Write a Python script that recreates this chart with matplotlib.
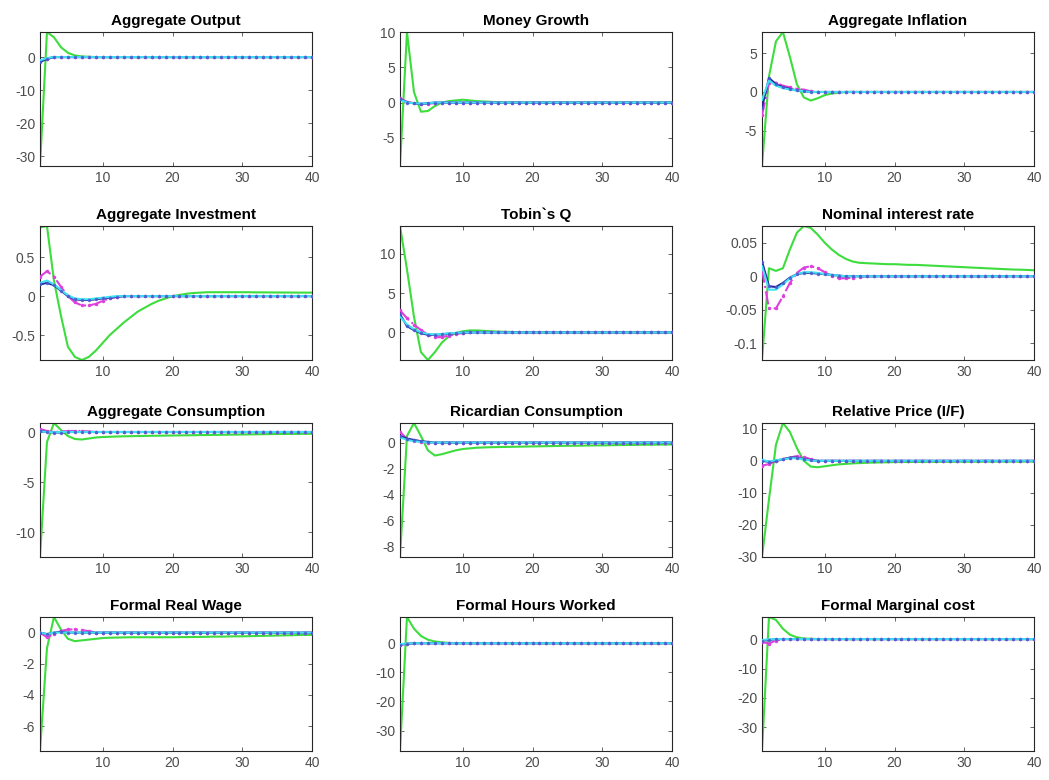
#!/usr/bin/env python3

import numpy as np
import matplotlib
matplotlib.use("Agg")
import matplotlib.pyplot as plt

periods = list(range(1, 41))

titles = ['Aggregate Output', 'Money Growth', 'Aggregate Inflation',
          'Aggregate Investment', 'Tobin`s Q', 'Nominal interest rate',
          'Aggregate Consumption', 'Ricardian Consumption', 'Relative Price (I/F)',
          'Formal Real Wage', 'Formal Hours Worked', 'Formal Marginal cost']

yticks = [[-30, -20, -10, 0], [-5, 0, 5, 10], [-5, 0, 5],
          [-0.5, 0, 0.5], [0, 5, 10], [-0.1, -0.05, 0, 0.05],
          [-10, -5, 0], [-8, -6, -4, -2, 0], [-30, -20, -10, 0, 10],
          [-6, -4, -2, 0], [-30, -20, -10, 0], [-30, -20, -10, 0]]

# green (solid) series
green = [
    [-33, 7.6, 6.0, 3.0, 1.3, 0.5, 0.2, 0.1] + [0.0] * 32,
    [-9, 10, 1.5, -1.3, -1.2, -0.5, 0.0, 0.2, 0.3, 0.4, 0.3, 0.2, 0.15, 0.1, 0.05] + [0.0] * 25,
    [-9.5, 2.0, 6.5, 7.7, 4.5, 1.0, -0.7, -1.1, -0.8, -0.4, -0.2, -0.1] + [0.0] * 28,
    [0.88, 0.9, 0.2, -0.25, -0.65, -0.78, -0.82, -0.78, -0.7, -0.6, -0.5, -0.42, -0.34, -0.27,
     -0.2, -0.15, -0.1, -0.06, -0.03, 0.0, 0.015, 0.03, 0.04, 0.045, 0.05, 0.05, 0.05, 0.05,
     0.05, 0.05, 0.05, 0.048, 0.048, 0.047, 0.047, 0.046, 0.046, 0.045, 0.045, 0.045],
    [13.5, 8.0, 2.0, -2.5, -3.5, -2.5, -1.3, -0.5, -0.1, 0.15, 0.25, 0.25, 0.2, 0.15, 0.1,
     0.08, 0.05, 0.03, 0.02, 0.01] + [0.0] * 20,
    [-0.125, 0.012, 0.008, 0.012, 0.04, 0.065, 0.075, 0.072, 0.062, 0.05, 0.04, 0.032, 0.026,
     0.022, 0.02, 0.0195, 0.019, 0.0185, 0.018, 0.018, 0.0175, 0.017, 0.017, 0.0165, 0.016,
     0.0155, 0.015, 0.0145, 0.014, 0.0135, 0.013, 0.0125, 0.012, 0.0115, 0.011, 0.0105, 0.01,
     0.0098, 0.0094, 0.009],
    [-12.5, -1.0, 0.9, 0.2, -0.4, -0.7, -0.75, -0.65, -0.55, -0.5, -0.48, -0.45, -0.43, -0.42,
     -0.4, -0.39, -0.38, -0.37, -0.36, -0.35, -0.34, -0.33, -0.32, -0.31, -0.3, -0.29, -0.28,
     -0.27, -0.26, -0.25, -0.24, -0.23, -0.22, -0.21, -0.2, -0.2, -0.19, -0.19, -0.18, -0.18],
    [-8.8, 0.5, 1.5, 0.5, -0.6, -1.0, -0.9, -0.75, -0.6, -0.5, -0.45, -0.4, -0.38, -0.36,
     -0.35, -0.34, -0.33, -0.32, -0.31, -0.3, -0.29, -0.28, -0.27, -0.26, -0.25, -0.25, -0.24,
     -0.23, -0.22, -0.22, -0.21, -0.2, -0.19, -0.19, -0.18, -0.17, -0.17, -0.16, -0.16, -0.15],
    [-30, -12, 5, 11.8, 9, 4, 0, -1.8, -2.0, -1.7, -1.4, -1.1, -0.95, -0.8, -0.7, -0.6, -0.55,
     -0.5, -0.45, -0.4, -0.38, -0.36, -0.35, -0.34, -0.33, -0.32, -0.31, -0.3, -0.3, -0.3,
     -0.29, -0.28, -0.28, -0.27, -0.27, -0.26, -0.26, -0.25, -0.25, -0.25],
    [-7.6, -1.0, 1.0, 0.2, -0.4, -0.55, -0.5, -0.45, -0.4, -0.35, -0.33, -0.32, -0.31, -0.3,
     -0.3, -0.3, -0.3, -0.3, -0.3, -0.3, -0.29, -0.29, -0.28, -0.28, -0.27, -0.26, -0.26,
     -0.25, -0.24, -0.24, -0.23, -0.22, -0.21, -0.2, -0.19, -0.18, -0.17, -0.16, -0.15, -0.15],
    [-37, 9, 5, 2.5, 1.2, 0.6, 0.3, 0.1] + [0.0] * 32,
    [-38, 7.5, 6.5, 3.5, 1.5, 0.6, 0.2, 0.1] + [0.0] * 32,
]

# magenta (dash-dot) series
magenta = [
    [-1.2, -0.6, 0.0] + [0.0] * 37,
    [0.6, 0.1, -0.1, -0.2, -0.15, -0.1] + [0.0] * 34,
    [-3.0, 1.2, 1.2, 0.8, 0.6, 0.4, 0.3, 0.1] + [0.0] * 32,
    [0.25, 0.32, 0.25, 0.12, 0.0, -0.08, -0.12, -0.12, -0.1, -0.06, -0.03, -0.01] + [0.0] * 28,
    [2.8, 1.8, 1.0, 0.3, -0.3, -0.6, -0.6, -0.4, -0.2, -0.1] + [0.0] * 30,
    [0.01, -0.048, -0.048, -0.03, -0.01, 0.005, 0.013, 0.015, 0.012, 0.006, 0.0, -0.003,
     -0.003, -0.002, -0.001] + [0.0] * 25,
    [0.3, 0.1, 0.0, 0.05, 0.1, 0.1, 0.1, 0.05] + [0.0] * 32,
    [0.8, 0.3, 0.1, 0.05, 0.0] + [0.0] * 35,
    [-1.5, -1.0, 0.0, 0.5, 1.0, 1.5, 1.2, 0.5, 0.0] + [0.0] * 31,
    [0.0, -0.3, -0.1, 0.1, 0.2, 0.2, 0.15, 0.1] + [0.0] * 32,
    [-0.5, -0.2, 0.0] + [0.0] * 37,
    [-1.0, -1.5, -0.5, 0.0] + [0.0] * 36,
]

# navy (dotted, dot markers) series
navy = [
    [-1.5, -0.5, 0.0] + [0.0] * 37,
    [0.5, 0.0, -0.1, -0.2, -0.1] + [0.0] * 35,
    [-2.0, 1.8, 1.0, 0.6, 0.4, 0.2, 0.1] + [0.0] * 33,
    [0.15, 0.17, 0.14, 0.07, 0.0, -0.04, -0.05, -0.05, -0.04, -0.03, -0.02, -0.01] + [0.0] * 28,
    [2.3, 0.8, 0.3, -0.1, -0.3, -0.3, -0.25, -0.15, -0.08, -0.03] + [0.0] * 30,
    [0.022, -0.015, -0.016, -0.01, -0.002, 0.003, 0.005, 0.005, 0.004, 0.003, 0.002, 0.001] + [0.0] * 28,
    [0.1, 0.0, -0.05, -0.05, 0.0] + [0.0] * 35,
    [0.5, 0.3, 0.2, 0.1, 0.05] + [0.0] * 35,
    [0.0, -0.3, 0.0, 0.5, 1.0, 1.0, 0.5, 0.2] + [0.0] * 32,
    [0.0, -0.1, 0.0, 0.05] + [0.0] * 36,
    [-0.5, -0.2, 0.0] + [0.0] * 37,
    [-0.5, -0.3, 0.0] + [0.0] * 37,
]

# cyan (solid) series
cyan = [
    [-1.0, -0.3, 0.0] + [0.0] * 37,
    [0.4, 0.0, -0.1, -0.15, -0.1] + [0.0] * 35,
    [-1.0, 1.5, 0.8, 0.5, 0.3, 0.2, 0.1] + [0.0] * 33,
    [0.17, 0.2, 0.15, 0.08, 0.01, -0.03, -0.04, -0.04, -0.03, -0.02, -0.01] + [0.0] * 29,
    [2.0, 1.0, 0.4, 0.0, -0.2, -0.25, -0.2, -0.12, -0.06, -0.02] + [0.0] * 30,
    [0.015, -0.02, -0.02, -0.012, -0.003, 0.003, 0.006, 0.006, 0.005, 0.003, 0.002, 0.001] + [0.0] * 28,
    [0.05, 0.0, -0.03, 0.0] + [0.0] * 36,
    [0.4, 0.2, 0.1, 0.05] + [0.0] * 36,
    [0.3, -0.2, 0.2, 0.5, 0.8, 0.8, 0.4, 0.1] + [0.0] * 32,
    [0.0, -0.1, 0.0] + [0.0] * 37,
    [-0.3, -0.1, 0.0] + [0.0] * 37,
    [-0.3, -0.1, 0.0] + [0.0] * 37,
]

# axes boxes in pixels (left, top, width, height) for a 1049x780 canvas
col_left = [40, 400, 762]
row_top = [32, 226, 423, 617]
ax_w, ax_h = 272, 134

W, H = 1049, 780
fig = plt.figure(figsize=(W / 100, H / 100), dpi=100)
plt.rcParams['font.family'] = ['Liberation Sans', 'DejaVu Sans']

tick_color = '#4d4d4d'
for i in range(12):
    r, c = divmod(i, 3)
    left = col_left[c] / W
    bottom = 1 - (row_top[r] + ax_h) / H
    ax = fig.add_axes([left, bottom, ax_w / W, ax_h / H])

    ax.plot(periods, green[i], color='#3ddd3d', lw=1.5, zorder=2)
    ax.plot(periods, magenta[i], color='#dd40dd', lw=1.5, ls='-.', marker='.',
            ms=3, zorder=3)
    ax.plot(periods, navy[i], color='#2a2aa0', lw=1.5, ls='-', zorder=4)
    ax.plot(periods, cyan[i], color='#40e2f2', lw=1.5, zorder=5)
    ax.plot(periods, navy[i], color='#4a5ad0', lw=0, marker='.',
            ms=3, alpha=0.8, zorder=6)

    allv = np.concatenate([green[i], magenta[i], cyan[i], navy[i]])
    ax.set_ylim(allv.min(), allv.max())
    ax.set_xlim(1, 40)
    ax.set_xticks([10, 20, 30, 40])
    ax.set_yticks(yticks[i])
    ax.set_yticklabels([('%g' % t) for t in yticks[i]])
    ax.tick_params(direction='in', length=3, width=0.6, labelsize=10,
                   colors=tick_color, top=True, right=True)
    for sp in ax.spines.values():
        sp.set_color('#262626')
        sp.set_linewidth(0.8)
    ax.set_title(titles[i], fontsize=11, fontweight='bold', pad=5)

fig.savefig('out.png', dpi=100, facecolor='white')
